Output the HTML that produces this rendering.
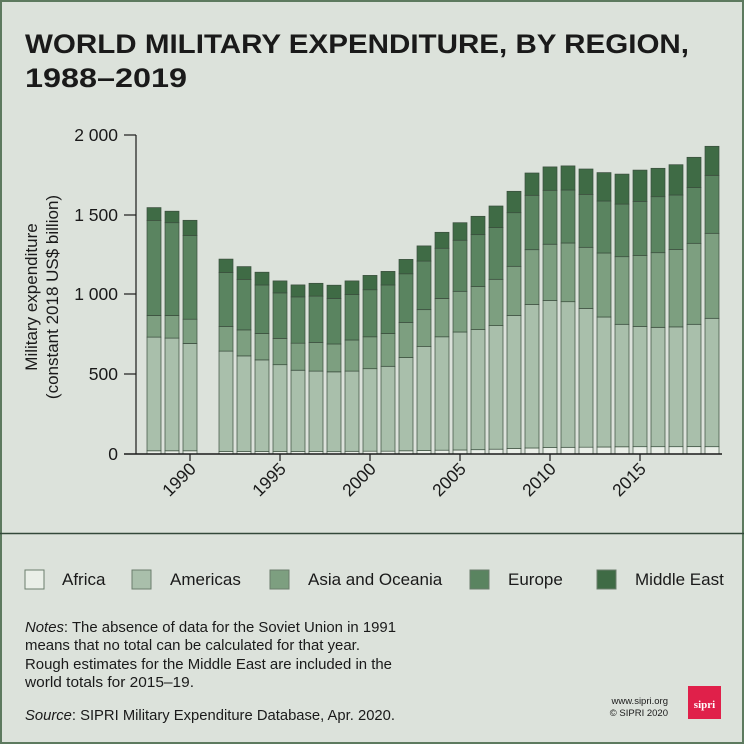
<!DOCTYPE html>
<html><head><meta charset="utf-8"><style>
body{margin:0;background:#dce2db}
svg{display:block}
text{font-family:"Liberation Sans",sans-serif;fill:#1a1a1a}
</style></head><body>
<svg id="s" width="744" height="744" viewBox="0 0 744 744" xmlns="http://www.w3.org/2000/svg">
<rect x="1" y="1" width="742" height="742" fill="#dce2db" stroke="#5d7a5f" stroke-width="2"/>
<line x1="0" y1="533.5" x2="744" y2="533.5" stroke="#33483a" stroke-width="1.5"/>
<text x="25" y="53" font-size="27" font-weight="bold" fill="#000" textLength="664" lengthAdjust="spacingAndGlyphs">WORLD MILITARY EXPENDITURE, BY REGION,</text>
<text x="25" y="87" font-size="27" font-weight="bold" fill="#000" textLength="162" lengthAdjust="spacingAndGlyphs">1988–2019</text>
<g id="bars"></g>
<line x1="136" y1="135" x2="136" y2="454" stroke="#1a1a1a" stroke-width="1.2"/>
<line x1="124" y1="454" x2="722" y2="454" stroke="#1a1a1a" stroke-width="1.5"/>
<g stroke="#1a1a1a" stroke-width="1.2">
<line x1="124" y1="135" x2="136" y2="135"/><line x1="124" y1="215" x2="136" y2="215"/>
<line x1="124" y1="294" x2="136" y2="294"/><line x1="124" y1="374" x2="136" y2="374"/>
<line x1="190" y1="454" x2="190" y2="461"/><line x1="280" y1="454" x2="280" y2="461"/>
<line x1="370" y1="454" x2="370" y2="461"/><line x1="460" y1="454" x2="460" y2="461"/>
<line x1="550" y1="454" x2="550" y2="461"/><line x1="640" y1="454" x2="640" y2="461"/>
</g>
<g font-size="17.5" text-anchor="end">
<text x="118" y="141">2 000</text><text x="118" y="221">1 500</text>
<text x="118" y="300">1 000</text><text x="118" y="380">500</text><text x="118" y="460">0</text>
</g>
<g font-size="17.5" text-anchor="end">
<text transform="translate(197,470) rotate(-45)">1990</text>
<text transform="translate(287,470) rotate(-45)">1995</text>
<text transform="translate(377,470) rotate(-45)">2000</text>
<text transform="translate(467,470) rotate(-45)">2005</text>
<text transform="translate(557,470) rotate(-45)">2010</text>
<text transform="translate(647,470) rotate(-45)">2015</text>
</g>
<g font-size="17" text-anchor="middle">
<text transform="translate(37,297) rotate(-90)">Military expenditure</text>
<text transform="translate(58,297) rotate(-90)">(constant 2018 US$ billion)</text>
</g>
<g stroke="#6b7d6c" stroke-width="1">
<rect x="25" y="570" width="19" height="19" fill="#eaefe8"/>
<rect x="132" y="570" width="19" height="19" fill="#a9bfab"/>
<rect x="270" y="570" width="19" height="19" fill="#7d9f80"/>
<rect x="470" y="570" width="19" height="19" fill="#5a8460"/>
<rect x="597" y="570" width="19" height="19" fill="#3f6b45"/>
</g>
<g font-size="17">
<text x="62" y="585">Africa</text><text x="170" y="585">Americas</text>
<text x="308" y="585">Asia and Oceania</text><text x="508" y="585">Europe</text>
<text x="635" y="585">Middle East</text>
</g>
<g font-size="14.8">
<text x="25" y="632" textLength="371" lengthAdjust="spacingAndGlyphs"><tspan font-style="italic">Notes</tspan>: The absence of data for the Soviet Union in 1991</text>
<text x="25" y="650" textLength="335" lengthAdjust="spacingAndGlyphs">means that no total can be calculated for that year.</text>
<text x="25" y="669" textLength="367" lengthAdjust="spacingAndGlyphs">Rough estimates for the Middle East are included in the</text>
<text x="25" y="687" textLength="169" lengthAdjust="spacingAndGlyphs">world totals for 2015–19.</text>
<text x="25" y="720" textLength="370" lengthAdjust="spacingAndGlyphs"><tspan font-style="italic">Source</tspan>: SIPRI Military Expenditure Database, Apr. 2020.</text>
</g>
<g font-size="9.5" text-anchor="end">
<text x="668" y="704">www.sipri.org</text><text x="668" y="716">© SIPRI 2020</text>
</g>
<rect x="688" y="686" width="33" height="33" fill="#e0204a"/>
<text x="704.5" y="708" font-size="11" font-weight="bold" text-anchor="middle" style="fill:#fff;font-family:'Liberation Serif',serif">sipri</text>
</svg>
<script>
var d={1988:[20,733,868,1465,1545],1989:[20,727,868,1450,1522],1990:[20,693,845,1370,1465],
1992:[15,645,800,1138,1222],1993:[15,615,778,1095,1175],1994:[15,590,755,1060,1140],
1995:[15,560,725,1010,1085],1996:[15,525,695,985,1060],1997:[15,520,700,990,1070],
1998:[15,515,690,975,1058],1999:[17,520,715,1000,1085],2000:[18,535,735,1030,1120],
2001:[18,550,755,1060,1145],2002:[20,605,825,1130,1220],2003:[22,675,905,1210,1305],
2004:[24,735,975,1290,1390],2005:[25,765,1020,1340,1450],2006:[27,780,1050,1375,1490],
2007:[30,805,1095,1420,1555],2008:[35,869,1177,1513,1647],2009:[38,938,1281,1622,1762],
2010:[40,963,1315,1653,1800],2011:[42,955,1323,1655,1806],2012:[43,913,1296,1628,1787],
2013:[44,859,1260,1586,1764],2014:[45,813,1237,1567,1755],2015:[46,800,1245,1584,1780],
2016:[46,794,1262,1613,1791],2017:[46,797,1283,1624,1814],2018:[46,813,1321,1670,1860],
2019:[46,851,1384,1747,1929]};
var c=["#eaefe8","#a9bfab","#7d9f80","#5a8460","#3f6b45"],h="";
for(var y in d){var x=190+(y-1990)*18-7,v=d[y],prev=0;
for(var i=0;i<5;i++){var t=454-v[i]*0.1595,b=454-prev*0.1595;
h+='<rect x="'+x+'" y="'+t.toFixed(1)+'" width="14" height="'+(b-t).toFixed(1)+'" fill="'+c[i]+'" stroke="#3a4d3d" stroke-width="0.7"/>';prev=v[i];}}
document.getElementById("bars").innerHTML=h;
</script>
</body></html>
